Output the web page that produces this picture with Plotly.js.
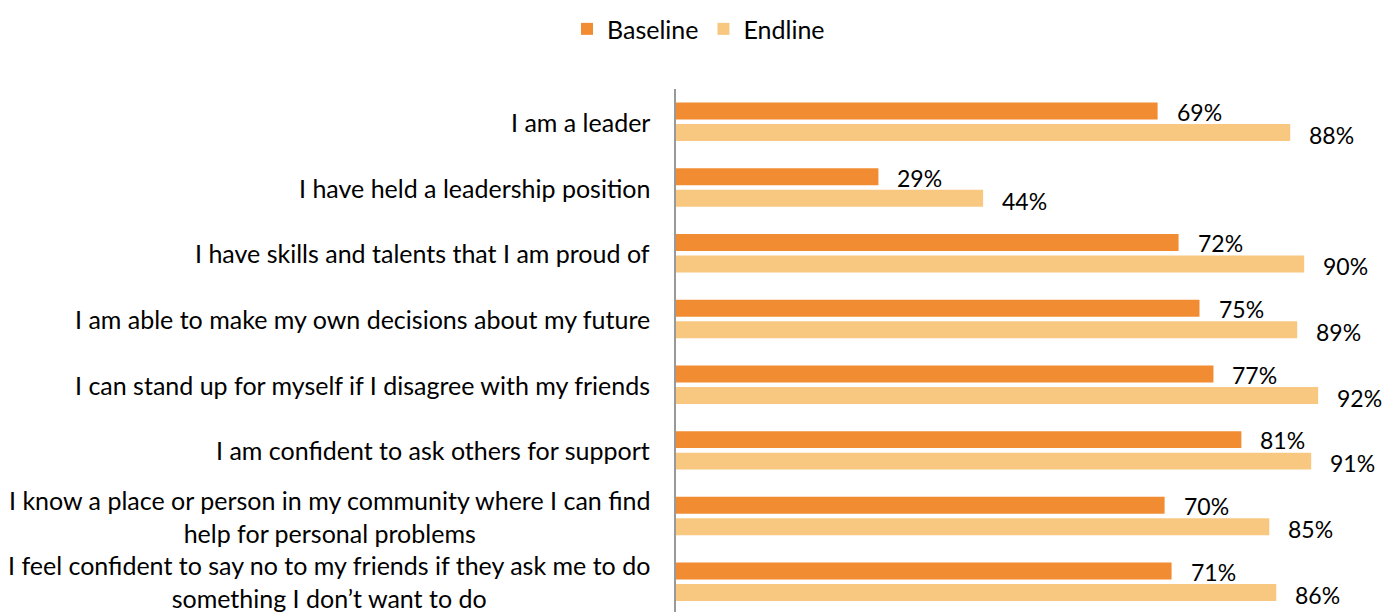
<!DOCTYPE html>
<html><head><meta charset="utf-8">
<script src="https://cdn.plot.ly/plotly-3.0.1.min.js"></script>
<style>html,body{margin:0;padding:0;background:#fff}#chart{width:1397px;height:612px}</style>
</head><body><div id="chart"></div>
<script>
const categories = [
  "I am a leader",
  "I have held a leadership position",
  "I have skills and talents that I am proud of",
  "I am able to make my own decisions about my future",
  "I can stand up for myself if I disagree with my friends",
  "I am confident to ask others for support",
  "I know a place or person in my community where I can find<br>help for personal problems",
  "I feel confident to say no to my friends if they ask me to do<br>something I don’t want to do"
];
const baseline = [69, 29, 72, 75, 77, 81, 70, 71];
const endline  = [88, 44, 90, 89, 92, 91, 85, 86];
const seriesNames = ["Baseline", "Endline"];
const colors = ["#F28C33", "#F9C880"];

const FONT = "Lato, 'Open Sans', sans-serif";
const ids = categories.map((c, i) => i);

const traces = [
  {type:'bar', orientation:'h', name:seriesNames[0], y:ids, x:baseline, marker:{color:colors[0]}, hoverinfo:'none'},
  {type:'bar', orientation:'h', name:seriesNames[1], y:ids, x:endline, marker:{color:colors[1]}, hoverinfo:'none'}
];

const annotations = [];
categories.forEach((c, i) => {
  annotations.push({xref:'paper', yref:'y', x:-0.035, y:i, text:c, showarrow:false,
    xanchor:'right', yanchor:'middle', align:'center', font:{family:FONT, size:25, color:'#000'}});
});
baseline.forEach((v, i) => {
  annotations.push({xref:'x', yref:'y', x:v, y:i, text:v + '%', showarrow:false,
    xanchor:'left', yanchor:'middle', xshift:17, yshift:10, font:{family:FONT, size:23, color:'#000'}});
});
endline.forEach((v, i) => {
  annotations.push({xref:'x', yref:'y', x:v, y:i, text:v + '%', showarrow:false,
    xanchor:'left', yanchor:'middle', xshift:17, yshift:-13, font:{family:FONT, size:23, color:'#000'}});
});

const layout = {
  width:1397, height:612,
  margin:{l:676, r:23, t:89, b:0},
  paper_bgcolor:'#fff', plot_bgcolor:'#fff',
  barmode:'group', bargap:0.346, bargroupgap:0.21,
  showlegend:true,
  legend:{orientation:'h', xref:'container', yref:'container', x:0.5, xanchor:'center', y:0.99, yanchor:'top',
    font:{family:FONT, size:25, color:'#000'}, traceorder:'normal', itemwidth:30},
  xaxis:{range:[0,100], visible:false, showgrid:false, zeroline:false},
  yaxis:{type:'linear', range:[7.46,-0.5], showticklabels:false, ticks:'', showgrid:false, zeroline:false,
    showline:true, linecolor:'#999', linewidth:2},
  annotations:annotations
};
Plotly.newPlot('chart', traces, layout, {displayModeBar:false, staticPlot:true});
</script></body></html>
